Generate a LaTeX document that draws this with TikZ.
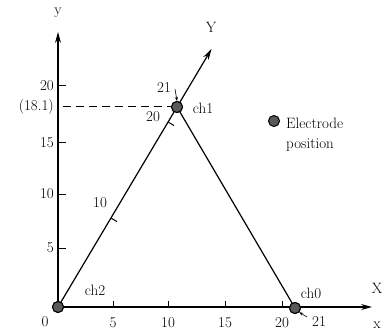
\documentclass[tikz,border=0pt]{standalone}
\usetikzlibrary{calc,arrows.meta}
\begin{document}
\begin{tikzpicture}[x=1pt,y=-1pt,
  lbl/.style={inner sep=0pt,font=\fontsize{15}{17}\selectfont},
  electrode/.style={circle,draw=black,line width=1pt,fill=black!65,minimum size=11pt,inner sep=0pt},
  axis/.style={line width=1.2pt,-{Stealth[length=11pt,width=6pt]}},
  tick/.style={line width=1pt},
  leader/.style={line width=0.6pt,-{Stealth[length=4pt,width=3pt]}}]
\useasboundingbox (0,0) rectangle (385,331);
% electrodes
\coordinate (O) at (58,307);
\node[electrode] (ch2) at (58,307) {};
\node[electrode] (ch1) at (177,107) {};
\node[electrode] (ch0) at (295,308) {};
% axes
\coordinate (xend) at (372,307);
\coordinate (yend) at (58,32);
\coordinate (Yend) at ($(O)!1.29!(ch1)$);
\draw[axis] (O) -- (xend);
\draw[axis] (O) -- (yend);
\draw[axis] (O) -- (Yend);
\draw[line width=1.2pt] (ch1.center) -- (ch0.center);
\node[electrode] at (ch2) {};
\node[electrode] at (ch1) {};
\node[electrode] at (ch0) {};
% axis labels
\node[lbl] (ylab) at (58,13) {y};
\node[lbl] (Ylab) at (211,27) {Y};
\node[lbl] (Xlab) at (377,288) {X};
\node[lbl] (xlab) at (377,325) {x};
% x ticks
\foreach \xx/\t in {113/5,168/10,225/15,282/20}{
  \draw[tick] (\xx,307) -- (\xx,301);
  \node[lbl] at (\xx,323) {\t};
}
\node[lbl] (zero) at (45,322) {0};
% y ticks
\foreach \yy/\t in {248/5,194/10,143/15,86/20}{
  \draw[tick] (58,\yy) -- (66,\yy);
  \node[lbl,anchor=east] at (54,\yy) {\t};
}
\node[lbl,anchor=east] (val) at (54,107) {(18.1)};
\draw[line width=1pt,dash pattern=on 8pt off 5pt] (63,107) -- (ch1.west);
% ticks on slanted axis
\coordinate (t10) at ($(O)!0.445!(ch1)$);
\coordinate (t20) at ($(O)!0.925!(ch1)$);
\draw[tick] (t10) -- ($(t10)+(6,3.6)$);
\draw[tick] (t20) -- ($(t20)+(6,3.6)$);
\node[lbl] (l10) at (100,203) {10};
\node[lbl] (l20) at (153,117) {20};
\node[lbl] (l21a) at (164,88) {21};
\draw[leader] (175,89) -- (ch1.north);
\node[lbl] (l21b) at (319,322) {21};
\draw[leader] (307,317) -- (ch0.south east);
% channel labels
\node[lbl] (c2) at (95,290) {ch2};
\node[lbl] (c1) at (203,108) {ch1};
\node[lbl] (c0) at (311,293) {ch0};
% legend
\node[electrode] (leg) at (274,121) {};
\node[lbl,anchor=west] (e1) at (286,123) {Electrode};
\node[lbl,anchor=west] (e2) at (286,145) {position};
\end{tikzpicture}
\end{document}
